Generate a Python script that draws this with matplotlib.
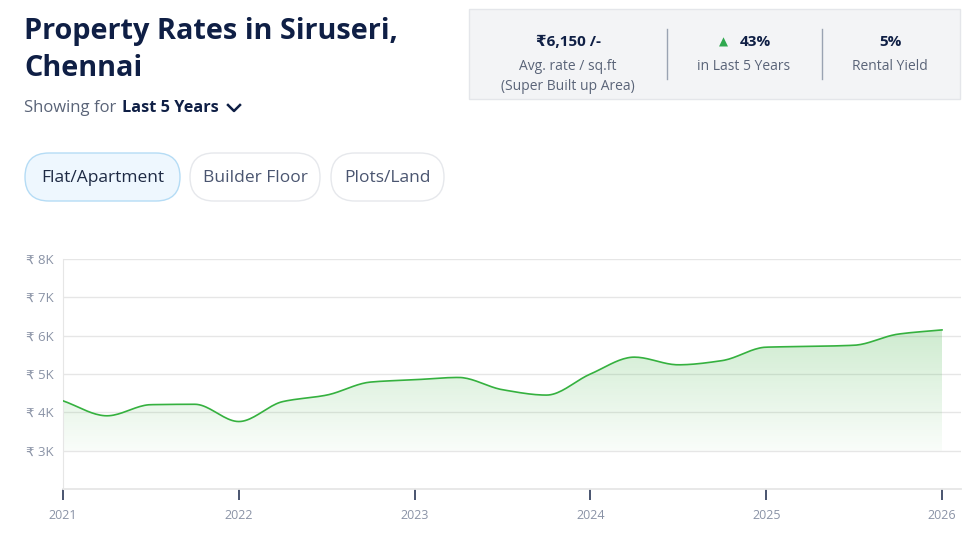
import numpy as np
import matplotlib
matplotlib.use("Agg")
import matplotlib.pyplot as plt
from matplotlib.patches import FancyBboxPatch, Rectangle
from matplotlib.ticker import FuncFormatter

plt.rcParams["font.family"] = ["Open Sans", "DejaVu Sans"]

# ---- data (quarterly avg. rate per sq.ft, in thousands of rupees) ----
quarters = [2021.0, 2021.25, 2021.5, 2021.75, 2022.0, 2022.25, 2022.5, 2022.75,
            2023.0, 2023.25, 2023.5, 2023.75, 2024.0, 2024.25, 2024.5, 2024.75,
            2025.0, 2025.25, 2025.5, 2025.75, 2026.0]
rates_k = [4.30, 3.91, 4.20, 4.21, 3.76, 4.28, 4.45, 4.79,
           4.85, 4.91, 4.59, 4.45, 5.00, 5.44, 5.24, 5.35,
           5.70, 5.72, 5.75, 6.04, 6.15]
year_ticks = [2021, 2022, 2023, 2024, 2025, 2026]
y_ticks = [3, 4, 5, 6, 7, 8]

W, H = 974, 541
NAVY = "#0f1f45"
GRAY = "#5a6478"
LIGHT = "#8a93a6"
GREEN = "#35b13f"


def smooth(x, y, n=20):
    # monotone cubic (Fritsch-Carlson) for drawing the curve only
    x = np.asarray(x, float)
    y = np.asarray(y, float)
    h = np.diff(x)
    d = np.diff(y) / h
    m = np.zeros_like(y)
    m[0], m[-1] = d[0], d[-1]
    for i in range(1, len(y) - 1):
        if d[i - 1] * d[i] > 0:
            w1 = 2 * h[i] + h[i - 1]
            w2 = h[i] + 2 * h[i - 1]
            m[i] = (w1 + w2) / (w1 / d[i - 1] + w2 / d[i])
    xs, ys = [], []
    for i in range(len(h)):
        t = np.linspace(0, 1, n, endpoint=(i == len(h) - 1))
        h00 = 2 * t**3 - 3 * t**2 + 1
        h10 = t**3 - 2 * t**2 + t
        h01 = -2 * t**3 + 3 * t**2
        h11 = t**3 - t**2
        xs.append(x[i] + t * h[i])
        ys.append(h00 * y[i] + h10 * h[i] * m[i] + h01 * y[i + 1] + h11 * h[i] * m[i + 1])
    return np.concatenate(xs), np.concatenate(ys)


fig = plt.figure(figsize=(W / 100, H / 100), dpi=100)
fig.patch.set_facecolor("white")

# overlay in pixel coordinates for the page furniture
bg = fig.add_axes([0, 0, 1, 1])
bg.set_xlim(0, W)
bg.set_ylim(H, 0)
bg.axis("off")

# ---- header ----
bg.text(24, 31, "Property Rates in Siruseri,", fontsize=20.8, fontweight="bold",
        color=NAVY, va="center")
bg.text(24, 68, "Chennai", fontsize=20.8, fontweight="bold", color=NAVY, va="center")
bg.text(24, 108, "Showing for", fontsize=12, color=GRAY, va="center")
bg.text(122, 108, "Last 5 Years", fontsize=11.7, fontweight="bold", color=NAVY, va="center")
bg.plot([228, 234, 240], [105, 111, 105], color=NAVY, lw=1.8)

# ---- pill buttons ----
pills = [("Flat/Apartment", 25, 180, "#eef7fe", "#b5dcf5", "#1e2a44"),
         ("Builder Floor", 190, 320, "white", "#e6e8ec", "#4a5570"),
         ("Plots/Land", 331, 444, "white", "#e6e8ec", "#4a5570")]
for label, x0, x1, fc, ec, tc in pills:
    bg.add_patch(FancyBboxPatch((x0, 153), x1 - x0, 48,
                                boxstyle="round,pad=0,rounding_size=24",
                                fc=fc, ec=ec, lw=1))
    bg.text((x0 + x1) / 2, 177.5, label, fontsize=12.5, color=tc, ha="center", va="center")

# ---- stats box ----
bg.add_patch(Rectangle((469, 9), 960 - 469, 90, fc="#f3f4f6", ec="#e4e6ea", lw=1))
for xd in (667, 822):
    bg.plot([xd, xd], [29, 79], color="#9aa3b2", lw=1)
bg.text(568, 42.5, "₹6,150 /-", fontsize=11, fontweight="bold", color=NAVY,
        ha="center", va="center")
bg.text(568, 67, "Avg. rate / sq.ft", fontsize=10, color=GRAY, ha="center", va="center")
bg.text(568, 87, "(Super Built up Area)", fontsize=10, color=GRAY, ha="center", va="center")
bg.text(723, 42.5, "▲", fontsize=8.5, color="#2fa84f", ha="center", va="center",
        family=["DejaVu Sans"])
bg.text(755, 42.5, "43%", fontsize=11, fontweight="bold", color=NAVY, ha="center", va="center")
bg.text(744, 67, "in Last 5 Years", fontsize=10, color=GRAY, ha="center", va="center")
bg.text(890, 42.5, "5%", fontsize=11, fontweight="bold", color=NAVY, ha="center", va="center")
bg.text(890, 67, "Rental Yield", fontsize=10, color=GRAY, ha="center", va="center")

# ---- chart ----
ax = fig.add_axes([63 / W, 1 - 489 / H, (961 - 63) / W, (489 - 259) / H])
ax.set_xlim(2021, 2026 + 19 / 175.8)
ax.set_ylim(2, 8)

xs, ys = smooth(quarters, rates_k)
poly = ax.fill_between(xs, ys, 3, color="none", lw=0)
grad = np.zeros((100, 1, 4))
grad[:, 0, 0] = 0.30
grad[:, 0, 1] = 0.72
grad[:, 0, 2] = 0.32
grad[:, 0, 3] = np.linspace(0.03, 0.27, 100)
im = ax.imshow(grad, extent=[2021, 2026, 3, max(rates_k)], origin="lower", aspect="auto",
               zorder=1)
im.set_clip_path(poly.get_paths()[0], transform=ax.transData)
ax.plot(xs, ys, color=GREEN, lw=1.2, zorder=3)

ax.set_yticks(y_ticks)
ax.yaxis.set_major_formatter(FuncFormatter(lambda v, p: f"₹ {int(v)}K"))
ax.grid(axis="y", color="#e6e6e6", lw=1, zorder=0)
ax.set_axisbelow(True)
ax.tick_params(axis="y", length=0, pad=7, labelsize=9.5, labelcolor=LIGHT)

ax.set_xticks(year_ticks)
ax.set_xticklabels([str(y) for y in year_ticks])
ax.tick_params(axis="x", length=8, width=1.3, color="#3a4663", pad=6.5, labelsize=9,
               labelcolor=LIGHT)

for side in ("top", "right"):
    ax.spines[side].set_visible(False)
ax.spines["left"].set_color("#e6e6e6")
ax.spines["bottom"].set_color("#e6e6e6")
ax.spines["bottom"].set_linewidth(1.3)

fig.savefig("out.png", dpi=100, facecolor="white")
